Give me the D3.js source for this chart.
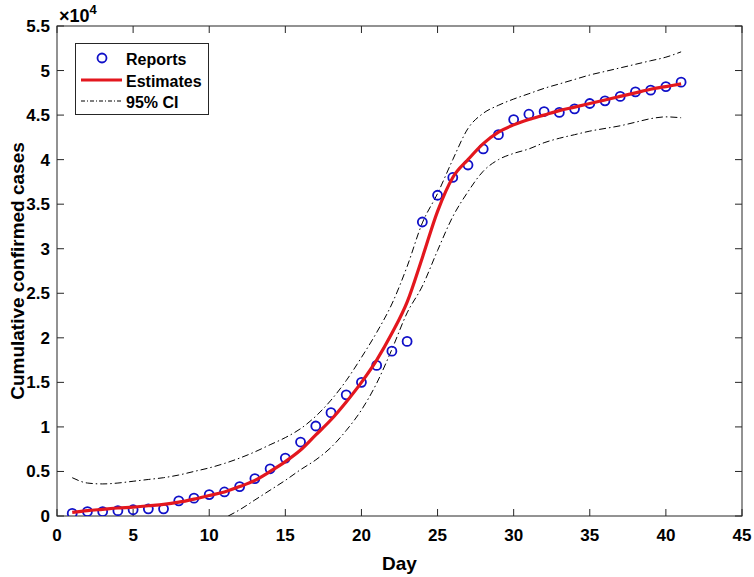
<!DOCTYPE html>
<html><head><meta charset="utf-8">
<script src="https://cdn.jsdelivr.net/npm/d3@7"></script>
<style>
body{margin:0;background:#fff;}
svg{display:block;}
text{font-family:"Liberation Sans",Arial,sans-serif;font-weight:bold;fill:#000;}
</style></head>
<body>
<svg id="c" width="754" height="577"></svg>
<script>
// values in units of 10^4
const days = d3.range(1, 42);
const reports = [0.03,0.05,0.05,0.06,0.07,0.08,0.08,0.17,0.20,0.24,0.27,0.33,0.42,0.53,0.65,0.83,1.01,1.16,1.36,1.50,1.69,1.85,1.96,3.30,3.60,3.80,3.94,4.12,4.28,4.45,4.51,4.54,4.53,4.57,4.63,4.66,4.71,4.76,4.78,4.82,4.87];
const estimates = [0.04,0.06,0.075,0.09,0.10,0.115,0.13,0.155,0.19,0.23,0.27,0.33,0.40,0.50,0.61,0.74,0.91,1.08,1.28,1.50,1.75,2.05,2.40,2.90,3.42,3.80,4.00,4.18,4.31,4.39,4.45,4.50,4.55,4.59,4.63,4.67,4.71,4.75,4.79,4.82,4.85];
const upperCI = [0.43,0.37,0.36,0.37,0.39,0.41,0.43,0.46,0.50,0.54,0.59,0.65,0.72,0.80,0.88,0.98,1.12,1.30,1.52,1.78,2.06,2.38,2.80,3.29,3.62,4.00,4.35,4.52,4.61,4.68,4.74,4.80,4.85,4.90,4.95,4.99,5.03,5.07,5.11,5.15,5.21];
const lowerDays = [11.25,12,13,14,15,16,17,18,19,20,21,22,23,24,25,26,27,28,29,30,31,32,33,34,35,36,37,38,39,40,41];
const lowerCI = [0.00,0.07,0.18,0.29,0.40,0.52,0.63,0.77,0.96,1.19,1.49,1.87,2.28,2.58,2.98,3.36,3.64,3.87,4.00,4.07,4.12,4.19,4.24,4.28,4.32,4.35,4.38,4.42,4.46,4.48,4.47];
const xTicks = d3.range(0, 46, 5);
const yTicks = d3.range(0, 5.51, 0.5);
const legendLabels = ["Reports", "Estimates", "95% CI"];

const svg = d3.select("#c");
const L = 57, R = 742, T = 26, B = 516;
const x = d3.scaleLinear().domain([0, 45]).range([L, R]);
const y = d3.scaleLinear().domain([0, 5.5]).range([B, T]);
const axisCol = "#262626";

svg.append("defs").append("clipPath").attr("id","clip")
  .append("rect").attr("x",L).attr("y",T).attr("width",R-L).attr("height",B-T);

// ticks (inside, on all four sides)
const tl = 7;
const g = svg.append("g");
xTicks.forEach(t=>{
  g.append("line").attr("x1",x(t)).attr("x2",x(t)).attr("y1",B).attr("y2",B-tl).attr("stroke",axisCol);
  g.append("line").attr("x1",x(t)).attr("x2",x(t)).attr("y1",T).attr("y2",T+tl).attr("stroke",axisCol);
  g.append("text").attr("x",x(t)).attr("y",B+25).attr("text-anchor","middle").attr("font-size",17).text(t);
});
yTicks.forEach(t=>{
  g.append("line").attr("x1",L).attr("x2",L+tl).attr("y1",y(t)).attr("y2",y(t)).attr("stroke",axisCol);
  g.append("line").attr("x1",R).attr("x2",R-tl).attr("y1",y(t)).attr("y2",y(t)).attr("stroke",axisCol);
  g.append("text").attr("x",L-7).attr("y",y(t)+6).attr("text-anchor","end").attr("font-size",17).text(d3.format("")(+t.toFixed(1)));
});
g.append("rect").attr("x",L).attr("y",T).attr("width",R-L).attr("height",B-T)
  .attr("fill","none").attr("stroke",axisCol).attr("stroke-width",1);

// exponent label
const ex = svg.append("text").attr("x",L+2).attr("y",T-4).attr("font-size",18);
ex.append("tspan").text("×10");
ex.append("tspan").attr("dy",-8).attr("font-size",13).text("4");

// axis labels
svg.append("text").attr("x",(L+R)/2).attr("y",570).attr("text-anchor","middle").attr("font-size",19).text("Day");
svg.append("text").attr("transform",`translate(24,${(T+B)/2}) rotate(-90)`).attr("text-anchor","middle").attr("font-size",19).text("Cumulative confirmed cases");

const plot = svg.append("g").attr("clip-path","url(#clip)");
const line = d3.line().x(d=>x(d[0])).y(d=>y(d[1])).curve(d3.curveMonotoneX);
const dash = "7,3,1.5,3";

plot.append("path").datum(days.map((d,i)=>[d,upperCI[i]])).attr("d",line)
  .attr("fill","none").attr("stroke","#000").attr("stroke-width",1).attr("stroke-dasharray",dash);
plot.append("path").datum(lowerDays.map((d,i)=>[d,lowerCI[i]])).attr("d",line)
  .attr("fill","none").attr("stroke","#000").attr("stroke-width",1).attr("stroke-dasharray",dash);

plot.selectAll("circle.r").data(days.map((d,i)=>[d,reports[i]])).enter().append("circle")
  .attr("cx",d=>x(d[0])).attr("cy",d=>y(d[1])).attr("r",4.5)
  .attr("fill","none").attr("stroke","#1010c8").attr("stroke-width",1.8);

plot.append("path").datum(days.map((d,i)=>[d,estimates[i]])).attr("d",line)
  .attr("fill","none").attr("stroke","#e3171e").attr("stroke-width",3.2);

// legend
const lg = svg.append("g");
lg.append("rect").attr("x",75.5).attr("y",43.5).attr("width",133).attr("height",71)
  .attr("fill","#fff").attr("stroke",axisCol).attr("stroke-width",1);
const rows = [58, 80, 101];
lg.append("circle").attr("cx",102).attr("cy",rows[0]).attr("r",4.5).attr("fill","none").attr("stroke","#1010c8").attr("stroke-width",1.8);
lg.append("line").attr("x1",81).attr("x2",122).attr("y1",rows[1]).attr("y2",rows[1]).attr("stroke","#e3171e").attr("stroke-width",3.2);
lg.append("line").attr("x1",81).attr("x2",122).attr("y1",rows[2]).attr("y2",rows[2]).attr("stroke","#000").attr("stroke-width",1).attr("stroke-dasharray","4,2,1,2");
legendLabels.forEach((t,i)=>{
  lg.append("text").attr("x",126).attr("y",rows[i]+6.5).attr("font-size",16).text(t);
});
</script>
</body></html>
